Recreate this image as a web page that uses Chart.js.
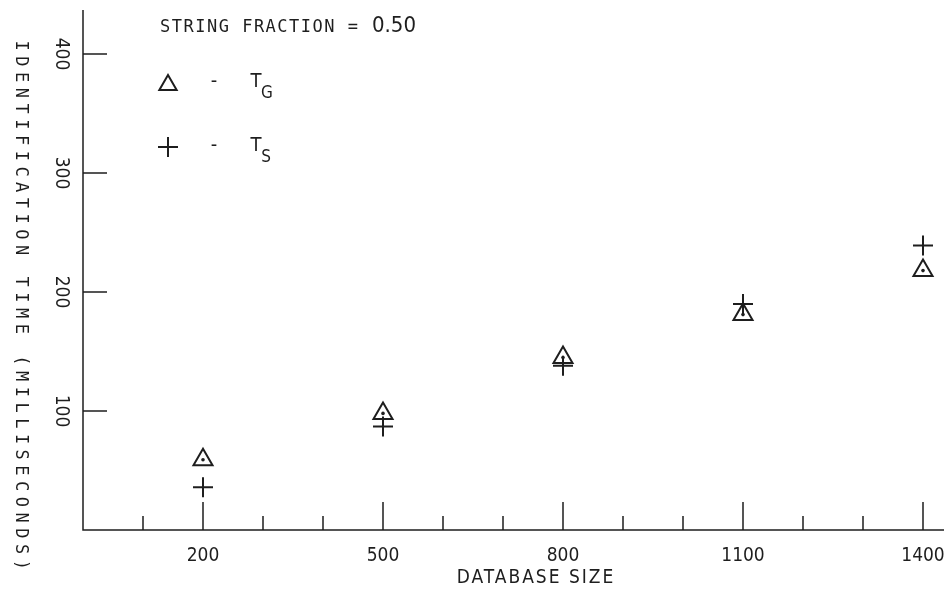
<!DOCTYPE html>
<html>
<head>
<meta charset="utf-8">
<script src="https://cdn.jsdelivr.net/npm/chart.js@4"></script>
<style>
  html, body { margin: 0; background: #fff; overflow: hidden; }
  #wrap { width: 944px; height: 601px; position: relative; }
  canvas { display: block; }
</style>
</head>
<body>
<div id="wrap"><canvas id="plot"></canvas></div>
<script>
// database sizes and identification times (ms)
const sizes = [200, 500, 800, 1100, 1400];
const tG = [59, 98, 145, 181, 218];
const tS = [36, 87, 138, 190, 239];

const xMajor = [200, 500, 800, 1100, 1400];
const xMinor = [100, 300, 400, 600, 700, 900, 1000, 1200, 1300];
const yTicks = [100, 200, 300, 400];

const ink = '#1e1e1e';
const narrow = "'Liberation Sans Narrow', 'DejaVu Sans Condensed', 'DejaVu Sans'";
const mono = "'DejaVu Sans Mono', 'Liberation Mono', monospace";

const pts = vals => sizes.map((s, i) => ({ x: s, y: vals[i] }));

// axes, ticks, labels and key drawn by hand in the old typewriter style
const paperAxes = {
  id: 'paperAxes',
  afterDraw(chart) {
    const { ctx, chartArea: a, scales: { x, y } } = chart;
    ctx.save();
    ctx.strokeStyle = ink;
    ctx.fillStyle = ink;
    ctx.lineWidth = 1.5;

    // axis lines
    ctx.beginPath();
    ctx.moveTo(a.left, a.top);
    ctx.lineTo(a.left, a.bottom);
    ctx.lineTo(a.right, a.bottom);
    ctx.stroke();

    // x ticks point up into the plot
    ctx.beginPath();
    xMajor.forEach(v => {
      const px = x.getPixelForValue(v);
      ctx.moveTo(px, a.bottom);
      ctx.lineTo(px, a.bottom - 28);
    });
    xMinor.forEach(v => {
      const px = x.getPixelForValue(v);
      ctx.moveTo(px, a.bottom);
      ctx.lineTo(px, a.bottom - 14);
    });
    yTicks.forEach(v => {
      const py = y.getPixelForValue(v);
      ctx.moveTo(a.left, py);
      ctx.lineTo(a.left + 24, py);
    });
    ctx.stroke();

    // x tick labels
    ctx.font = '19px ' + narrow;
    ctx.textAlign = 'center';
    ctx.textBaseline = 'middle';
    xMajor.forEach(v => {
      ctx.fillText(String(v), x.getPixelForValue(v), a.bottom + 26);
    });

    // y tick labels, turned clockwise
    yTicks.forEach(v => {
      ctx.save();
      ctx.translate(a.left - 22, y.getPixelForValue(v));
      ctx.rotate(Math.PI / 2);
      ctx.fillText(String(v), 0, 0);
      ctx.restore();
    });

    // axis titles
    ctx.save();
    ctx.letterSpacing = '2px';
    ctx.fillText('DATABASE SIZE', 536, 578);
    ctx.restore();

    ctx.save();
    ctx.font = '17px ' + mono;
    ctx.letterSpacing = '5.5px';
    ctx.translate(20, 308);
    ctx.rotate(Math.PI / 2);
    ctx.fillText('IDENTIFICATION TIME (MILLISECONDS)', 0, 0);
    ctx.restore();

    // heading
    ctx.save();
    ctx.textAlign = 'left';
    ctx.font = '17px ' + mono;
    ctx.letterSpacing = '1.5px';
    ctx.fillText('STRING FRACTION =', 160, 28);
    ctx.font = '22px ' + narrow;
    ctx.letterSpacing = '0px';
    ctx.fillText('0.50', 372, 26);
    ctx.restore();

    // key
    ctx.lineWidth = 2;
    ctx.fillStyle = '#fff';
    Chart.helpers.drawPoint(ctx, { pointStyle: 'triangle', radius: 10, rotation: 0, borderWidth: 2 }, 168, 85);
    Chart.helpers.drawPoint(ctx, { pointStyle: 'cross', radius: 10, rotation: 0, borderWidth: 2 }, 168, 147);
    ctx.fillStyle = ink;
    ctx.textAlign = 'center';
    ctx.font = '20px ' + narrow;
    ctx.fillText('-', 214, 82);
    ctx.fillText('-', 214, 146);
    ctx.fillText('T', 256, 82);
    ctx.fillText('T', 256, 146);
    ctx.font = '17px ' + narrow;
    ctx.fillText('G', 267, 94);
    ctx.fillText('S', 266, 158);
    ctx.restore();
  }
};

new Chart(document.getElementById('plot'), {
  type: 'scatter',
  data: {
    datasets: [
      {
        label: 'T_G',
        data: pts(tG),
        pointStyle: 'triangle',
        pointRadius: 11,
        borderColor: ink,
        backgroundColor: 'rgba(0,0,0,0)',
        borderWidth: 2
      },
      {
        label: 'T_G centre',
        data: pts(tG),
        pointStyle: 'circle',
        pointRadius: 1.8,
        borderWidth: 0,
        backgroundColor: ink
      },
      {
        label: 'T_S',
        data: pts(tS),
        pointStyle: 'cross',
        pointRadius: 10,
        borderColor: ink,
        borderWidth: 2
      }
    ]
  },
  options: {
    responsive: true,
    maintainAspectRatio: false,
    animation: false,
    layout: { autoPadding: false, padding: { left: 83, right: 0, top: 10, bottom: 71 } },
    scales: {
      x: { type: 'linear', min: 0, max: 1435, display: false },
      y: { min: 0, max: 437, display: false }
    },
    plugins: {
      legend: { display: false },
      tooltip: { enabled: false }
    }
  },
  plugins: [paperAxes]
});
</script>
</body>
</html>
